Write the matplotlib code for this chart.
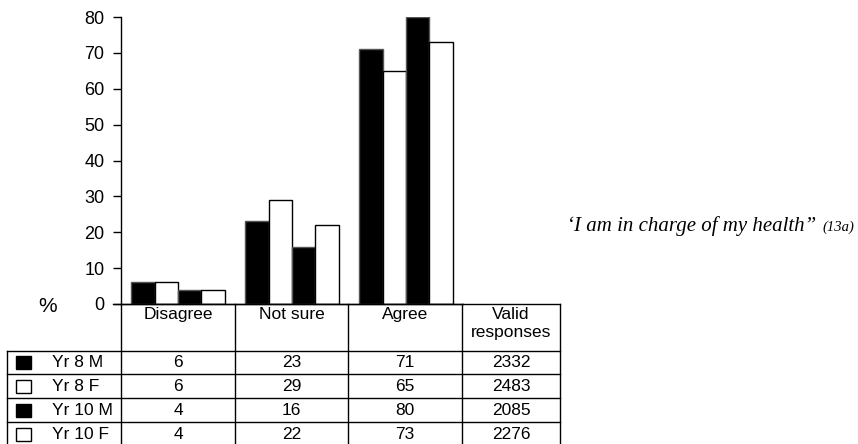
"""
Bar chart of Yr 8 / Yr 10 responses to "I am in charge of my health",
with the data table underneath the bars.
"""
import matplotlib.pyplot as plt
from matplotlib.lines import Line2D
from matplotlib.patches import Rectangle

plt.rcParams["font.family"] = ["Liberation Sans", "DejaVu Sans"]

categories = ["Disagree", "Not sure", "Agree"]
groups = ["Yr 8 M", "Yr 8 F", "Yr 10 M", "Yr 10 F"]
disagree = [6, 6, 4, 4]
not_sure = [23, 29, 16, 22]
agree = [71, 65, 80, 73]
valid_responses = [2332, 2483, 2085, 2276]
y_ticks = [0, 10, 20, 30, 40, 50, 60, 70, 80]

fill_colours = ["black", "white", "black", "white"]
edge_colours = ["#555555", "black", "#555555", "black"]

W, H = 858, 444


def fx(px):
    return px / W


def fy(py):
    return 1 - py / H


fig = plt.figure(figsize=(W / 100, H / 100), dpi=100)

# Bars
ax = fig.add_axes([fx(121), fy(304), fx(463) - fx(121), fy(17) - fy(304)])
values = list(zip(disagree, not_sure, agree))
width = 0.205
for i, group in enumerate(groups):
    offset = (i - 1.5) * width
    ax.bar([c + offset for c in range(len(categories))], values[i],
           width=width, color=fill_colours[i], edgecolor=edge_colours[i],
           linewidth=1)
ax.set_xlim(-0.5, len(categories) - 0.5)
ax.set_ylim(0, 80)
ax.set_yticks(y_ticks)
ax.tick_params(axis="y", direction="out", length=6, width=1, labelsize=13,
               pad=6)
ax.set_xticks([])
for side in ["top", "right"]:
    ax.spines[side].set_visible(False)
ax.spines["left"].set_linewidth(1)
ax.spines["bottom"].set_linewidth(1)
ax.spines["bottom"].set_bounds(-0.57, 2.5)
ax.spines["bottom"].set_clip_on(False)

fig.text(fx(48), fy(306), "%", fontsize=15, ha="center", va="center")
fig.text(fx(567), fy(226), "\u2018I am in charge of my health\u201d",
         family="Liberation Serif", style="italic", fontsize=15,
         ha="left", va="center")
fig.text(fx(822), fy(227), "(13a)", family="Liberation Serif",
         style="italic", fontsize=10.5, ha="left", va="center")

# Table grid
col_edges = [121, 235, 348, 462, 560]
row_edges = [351, 374, 398, 422, 446]


def hline(y, x0, x1):
    fig.add_artist(Line2D([fx(x0), fx(x1)], [fy(y), fy(y)], color="black",
                          linewidth=1))


def vline(x, y0, y1):
    fig.add_artist(Line2D([fx(x), fx(x)], [fy(y0), fy(y1)], color="black",
                          linewidth=1))


hline(304, 121, 560)
for y in row_edges:
    hline(y, 7, 560)
for x in col_edges:
    vline(x, 304, 446)
vline(7, 351, 446)

# Header cells
headers = categories + ["Valid\nresponses"]
for j, head in enumerate(headers):
    cx = (col_edges[j] + col_edges[j + 1]) / 2
    fig.text(fx(cx), fy(307), head, fontsize=12.5, ha="center", va="top",
             linespacing=1.25)

# Body rows
for i, group in enumerate(groups):
    cy = (row_edges[i] + row_edges[i + 1]) / 2
    fig.add_artist(Rectangle((fx(16), fy(cy + 6.5)), fx(15), fy(0) - fy(13),
                             facecolor=fill_colours[i], edgecolor="black",
                             linewidth=1))
    fig.text(fx(52), fy(cy), group, fontsize=12.5, ha="left", va="center")
    row = [disagree[i], not_sure[i], agree[i], valid_responses[i]]
    for j, val in enumerate(row):
        cx = (col_edges[j] + col_edges[j + 1]) / 2
        fig.text(fx(cx), fy(cy), str(val), fontsize=12.5, ha="center",
                 va="center")

fig.savefig("out.png", dpi=100)
